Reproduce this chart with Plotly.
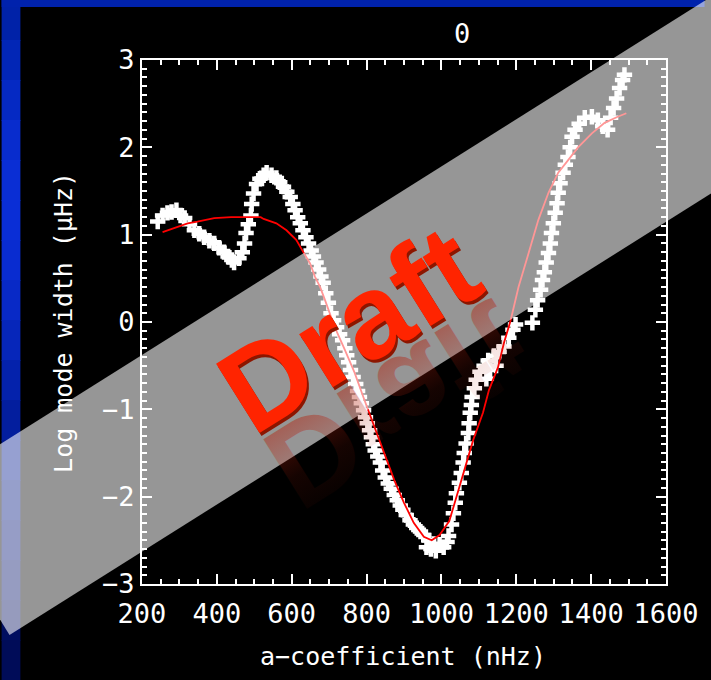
import plotly.graph_objects as go

# ---- measured mode widths (l = 0) ----
a_coef = [242, 255, 268, 279, 292, 303, 314, 327, 340, 353, 366, 380, 393, 406, 419, 430,
          440, 446, 459, 468, 474, 478, 484, 491, 493, 498, 506, 515, 525, 533, 546, 559,
          568, 578, 587, 596, 603, 609, 616, 623, 630, 638, 645, 652, 658, 665, 672, 678,
          684, 691, 698, 705, 712, 720, 728, 736, 742, 747, 752, 757, 764, 771, 776, 781,
          786, 792, 797, 802, 808, 813, 818, 823, 830, 837, 843, 850, 858, 866, 874, 882,
          890, 897, 906, 916, 925, 934, 944, 953, 960, 966, 972, 979, 985, 995, 1006, 1015,
          1019, 1027, 1032, 1037, 1040, 1048, 1053, 1058, 1061, 1066, 1072, 1074, 1077, 1080,
          1082, 1088, 1093, 1103, 1114, 1120, 1125, 1130, 1140, 1146, 1154, 1167, 1180, 1191,
          1198, 1243, 1251, 1257, 1265, 1270, 1275, 1280, 1286, 1291, 1294, 1299, 1304, 1309,
          1312, 1317, 1325, 1331, 1338, 1344, 1349, 1357, 1368, 1383, 1402, 1418, 1431, 1444,
          1452, 1460, 1468, 1476, 1484, 1489]
log_width = [1.15, 1.22, 1.25, 1.26, 1.28, 1.22, 1.19, 1.12, 1.05, 1.01, 0.97, 0.93, 0.90, 0.85, 0.80, 0.75,
             0.71, 0.68, 0.73, 0.80, 0.90, 1.02, 1.12, 1.22, 1.35, 1.47, 1.58, 1.64, 1.68, 1.71, 1.68, 1.65,
             1.60, 1.55, 1.49, 1.43, 1.35, 1.28, 1.20, 1.13, 1.05, 0.97, 0.90, 0.82, 0.75, 0.68, 0.60, 0.52,
             0.45, 0.33, 0.22, 0.10, 0.02, -0.06, -0.14, -0.21, -0.30, -0.38, -0.46, -0.55, -0.63, -0.71, -0.79, -0.86,
             -0.93, -1.01, -1.09, -1.16, -1.24, -1.32, -1.40, -1.47, -1.54, -1.61, -1.70, -1.78, -1.85, -1.91, -1.98, -2.04,
             -2.10, -2.15, -2.21, -2.27, -2.32, -2.36, -2.40, -2.44, -2.58, -2.50, -2.60, -2.54, -2.62, -2.55, -2.58, -2.52,
             -2.45, -2.32, -2.19, -2.07, -1.96, -1.84, -1.73, -1.61, -1.50, -1.39, -1.27, -1.16, -1.04, -0.95,
             -0.86, -0.76, -0.66, -0.57, -0.50, -0.65, -0.44, -0.55, -0.39, -0.50, -0.34, -0.28, -0.18, -0.09,
             -0.03, -0.01, 0.14, 0.25, 0.37, 0.48, 0.57, 0.68, 0.79, 0.90, 1.02, 1.13, 1.25, 1.36,
             1.48, 1.59, 1.71, 1.80, 1.89, 2.00, 2.12, 2.20, 2.27, 2.34, 2.35, 2.31, 2.24, 2.20,
             2.34, 2.45, 2.56, 2.68, 2.77, 2.83]

# ---- model fit ----
fit_a = [255, 287, 322, 348, 393, 438, 472, 517, 525, 559, 586, 612, 631, 649, 662, 676,
         689, 702, 715, 742, 768, 794, 821, 847, 874, 900, 926, 953, 974, 995, 1021, 1032,
         1058, 1085, 1111, 1127, 1151, 1167, 1185, 1206, 1233, 1259, 1286, 1312, 1338, 1365,
         1402, 1436, 1471, 1494]
fit_w = [1.03, 1.08, 1.13, 1.15, 1.19, 1.20, 1.20, 1.20, 1.18, 1.13, 1.05, 0.94, 0.80, 0.67, 0.52, 0.40,
         0.25, 0.10, -0.06, -0.32, -0.58, -0.89, -1.20, -1.50, -1.81, -2.07, -2.30, -2.46, -2.50, -2.44, -2.28, -2.12,
         -1.73, -1.35, -1.04, -0.78, -0.52, -0.24, 0.02, 0.40, 0.79, 1.17, 1.48, 1.71, 1.85, 2.00,
         2.16, 2.28, 2.35, 2.39]

x_ticks = [200, 400, 600, 800, 1000, 1200, 1400, 1600]
y_ticks = [-3, -2, -1, 0, 1, 2, 3]

W, H = 711, 680
PL, PR, PT, PB = 142, 672, 60, 584


def px(x):
    return (x - PL) / (PR - PL)


def py(y):
    return (PB - y) / (PB - PT)


MONO = "DejaVu Sans Mono"

fig = go.Figure()
fig.add_trace(go.Scatter(
    x=a_coef, y=log_width, mode="markers",
    marker=dict(symbol="cross-thin", size=11, color="white",
                line=dict(width=4.5, color="white")),
    hoverinfo="skip"))
fig.add_trace(go.Scatter(
    x=fit_a, y=fit_w, mode="lines",
    line=dict(color="#ff0000", width=1.8),
    hoverinfo="skip"))

axis_common = dict(
    showgrid=False, zeroline=False, showline=True, linecolor="white", linewidth=2,
    mirror="allticks", ticks="inside", ticklen=10, tickwidth=2, tickcolor="white",
    tickfont=dict(family=MONO, size=27, color="white"),
)
fig.update_xaxes(range=[200, 1600], tickvals=x_ticks, ticktext=[str(v) for v in x_ticks],
                 ticklabelstandoff=5,
                 minor=dict(dtick=50, tick0=200, ticks="inside", ticklen=5, tickwidth=1.5,
                            tickcolor="white"),
                 **axis_common)
fig.update_yaxes(range=[-3, 3], tickvals=y_ticks, ticktext=[str(v).replace("-", "\u2212") for v in y_ticks],
                 minor=dict(dtick=0.1, tick0=0, ticks="inside", ticklen=5, tickwidth=1.5,
                            tickcolor="white"),
                 **axis_common)

shapes = []
# blue slide border: top strip and a shaded left strip
left_cols = [(0, 34, 168), (2, 38, 182), (5, 41, 195), (8, 44, 205), (10, 46, 212),
             (10, 46, 214), (9, 44, 208), (8, 41, 198), (6, 38, 186), (4, 34, 172),
             (3, 30, 158), (2, 26, 144), (1, 22, 130), (0, 19, 118), (0, 16, 106),
             (0, 14, 96), (0, 12, 88)]
step = H / len(left_cols)
for i, c in enumerate(left_cols):
    shapes.append(dict(type="rect", xref="paper", yref="paper", layer="below",
                       x0=px(0), x1=px(19), y0=py(i * step), y1=py((i + 1) * step + 1),
                       fillcolor="rgb(%d,%d,%d)" % c, line=dict(width=0)))
shapes.append(dict(type="rect", xref="paper", yref="paper", layer="below",
                   x0=px(0), x1=px(W), y0=py(0), y1=py(7),
                   fillcolor="rgb(0,34,172)", line=dict(width=0)))

# translucent diagonal banner
band = [(8, 635), (-80, 493), (939, -141), (1027, 1)]
path = "M " + " L ".join("%.5f,%.5f" % (px(x), py(y)) for x, y in band) + " Z"
shapes.append(dict(type="path", xref="paper", yref="paper", layer="above", path=path,
                   fillcolor="rgba(255,255,255,0.59)", line=dict(width=0)))

ANG = -32
DX, DY = 351, 329
FS = 119
annotations = [
    # mirrored reflection (flipped and faded by the page script)
    dict(text="<b>Draft</b>", x=px(DX), y=py(DY), xref="paper", yref="paper",
         showarrow=False, textangle=ANG, xanchor="center", yanchor="middle",
         font=dict(family="Liberation Sans", size=FS, color="rgb(170,25,5)")),
    # bevel shadow
    dict(text="<b>Draft</b>", x=px(DX), y=py(DY), xref="paper", yref="paper",
         showarrow=False, textangle=ANG, xanchor="center", yanchor="middle",
         xshift=2, yshift=-3,
         font=dict(family="Liberation Sans", size=FS, color="rgb(140,22,0)")),
    dict(text="<b>Draft</b>", x=px(DX), y=py(DY), xref="paper", yref="paper",
         showarrow=False, textangle=ANG, xanchor="center", yanchor="middle",
         font=dict(family="Liberation Sans", size=FS, color="rgb(255,36,0)")),
    # plot title and axis titles
    dict(text="0", x=px(466), y=py(34), xref="paper", yref="paper", showarrow=False,
         xanchor="center", yanchor="middle", font=dict(family=MONO, size=27, color="white")),
    dict(text="a\u2212coefficient (nHz)", x=px(406), y=py(656), xref="paper", yref="paper",
         showarrow=False, xanchor="center", yanchor="middle",
         font=dict(family=MONO, size=25, color="white")),
    dict(text="Log mode width (\u03bcHz)", x=px(62), y=py(322), xref="paper", yref="paper",
         showarrow=False, textangle=-90, xanchor="center", yanchor="middle",
         font=dict(family=MONO, size=25, color="white")),
]

fig.update_layout(
    width=W, height=H, autosize=False,
    margin=dict(l=PL, r=W - PR, t=PT, b=H - PB, pad=0),
    paper_bgcolor="black", plot_bgcolor="black",
    showlegend=False, shapes=shapes, annotations=annotations,
)

reflect_js = """
(function(){
  var gd = document.getElementById('{plot_id}');
  var t = gd.querySelector('.annotation[data-index="0"] text.annotation-text');
  if (!t) { return; }
  var svg = t.ownerSVGElement;
  var ns = 'http://www.w3.org/2000/svg';
  var defs = svg.querySelector('defs');
  if (!defs) { defs = document.createElementNS(ns, 'defs'); svg.insertBefore(defs, svg.firstChild); }
  var lg = document.createElementNS(ns, 'linearGradient');
  lg.setAttribute('id', 'reflFade');
  lg.setAttribute('x1', '0'); lg.setAttribute('y1', '0');
  lg.setAttribute('x2', '0'); lg.setAttribute('y2', '1');
  [['0', '0'], ['0.45', '0.12'], ['1', '0.62']].forEach(function(s){
    var st = document.createElementNS(ns, 'stop');
    st.setAttribute('offset', s[0]);
    st.setAttribute('stop-color', 'rgb(180,32,12)');
    st.setAttribute('stop-opacity', s[1]);
    lg.appendChild(st);
  });
  defs.appendChild(lg);
  var bb = t.getBBox();
  var yl = bb.y + 0.81 * bb.height + 4;
  t.setAttribute('transform', 'translate(0,' + (2 * yl) + ') scale(1,-1)');
  t.style.fill = 'url(#reflFade)';
  t.style.fillOpacity = '1';
})();
"""

fig.write_html("out.html", post_script=reflect_js)
